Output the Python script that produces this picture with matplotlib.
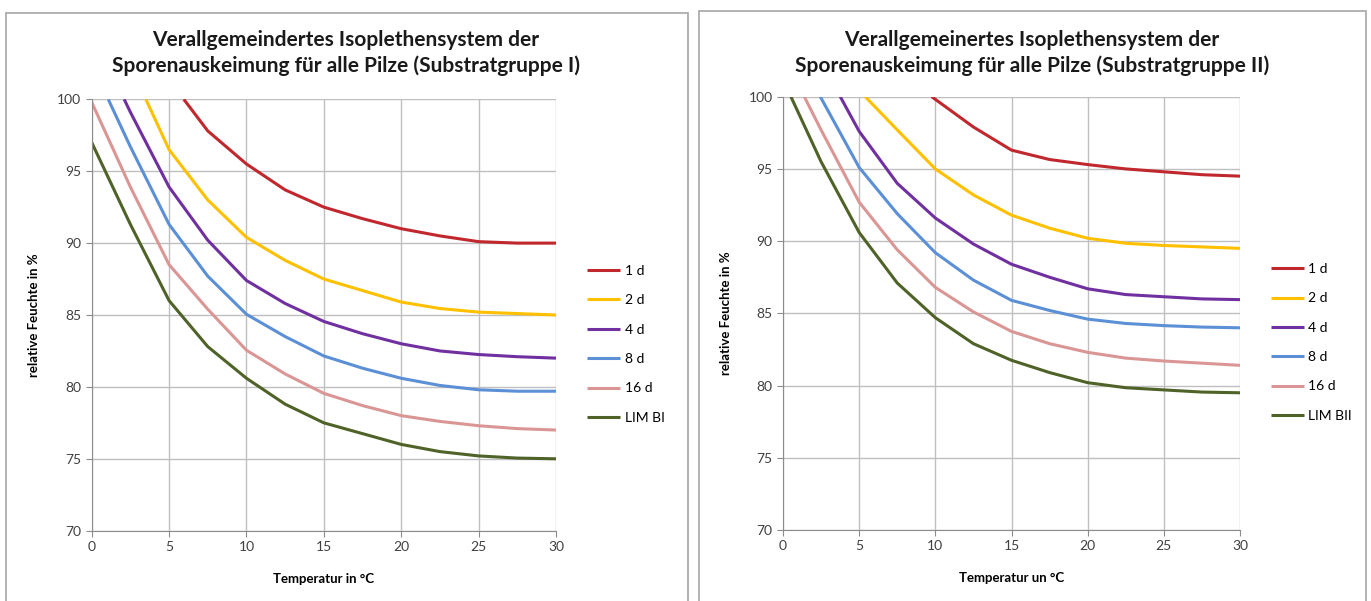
import matplotlib.pyplot as plt
from matplotlib.patches import Rectangle

# ---- data (temperature in degC, rel. humidity in %) ----
labels_I = ['1 d', '2 d', '4 d', '8 d', '16 d', 'LIM BI']
labels_II = ['1 d', '2 d', '4 d', '8 d', '16 d', 'LIM BII']

t_tail = [7.5, 10, 12.5, 15, 17.5, 20, 22.5, 25, 27.5, 30]

# Substratgruppe I
d1_I_x = [5.95] + t_tail
d1_I_y = [100, 97.8, 95.5, 93.7, 92.5, 91.7, 91.0, 90.5, 90.1, 90.0, 90.0]
d2_I_x = [3.5, 5] + t_tail
d2_I_y = [100, 96.5, 93.0, 90.4, 88.8, 87.5, 86.7, 85.9, 85.45, 85.2, 85.1, 85.0]
d4_I_x = [2.1, 2.5, 5] + t_tail
d4_I_y = [100, 99.1, 93.9, 90.2, 87.4, 85.8, 84.55, 83.7, 83.0, 82.5, 82.25, 82.1, 82.0]
d8_I_x = [1.07, 2.5, 5] + t_tail
d8_I_y = [100, 96.7, 91.3, 87.7, 85.05, 83.5, 82.15, 81.3, 80.6, 80.1, 79.8, 79.7, 79.7]
d16_I_x = [0, 2.5, 5] + t_tail
d16_I_y = [99.8, 93.9, 88.5, 85.4, 82.55, 80.9, 79.55, 78.7, 78.0, 77.6, 77.3, 77.1, 77.0]
lim_I_x = [0, 2.5, 5] + t_tail
lim_I_y = [97.0, 91.3, 86.0, 82.8, 80.6, 78.8, 77.5, 76.75, 76.0, 75.5, 75.2, 75.05, 75.0]

# Substratgruppe II
d1_II_x = [9.76, 12.5, 15, 17.5, 20, 22.5, 25, 27.5, 30]
d1_II_y = [100, 97.9, 96.3, 95.65, 95.3, 95.0, 94.8, 94.6, 94.5]
d2_II_x = [5.4] + t_tail
d2_II_y = [100, 97.7, 95.0, 93.2, 91.8, 90.9, 90.2, 89.85, 89.7, 89.6, 89.5]
d4_II_x = [3.76, 5] + t_tail
d4_II_y = [100, 97.6, 94.0, 91.6, 89.8, 88.4, 87.5, 86.7, 86.3, 86.15, 86.0, 85.95]
d8_II_x = [2.45, 5] + t_tail
d8_II_y = [100, 95.1, 91.9, 89.2, 87.3, 85.9, 85.2, 84.6, 84.3, 84.15, 84.05, 84.0]
d16_II_x = [1.4, 2.5, 5] + t_tail
d16_II_y = [100, 97.7, 92.7, 89.4, 86.8, 85.1, 83.75, 82.9, 82.3, 81.9, 81.7, 81.55, 81.4]
lim_II_x = [0.52, 2.5, 5] + t_tail
lim_II_y = [100, 95.5, 90.6, 87.1, 84.7, 82.9, 81.75, 80.9, 80.2, 79.85, 79.7, 79.55, 79.5]

colors = ['#C0282E', '#FFC000', '#7030A0', '#5B8FD6', '#DA9694', '#4F6228']

plt.rcParams['font.family'] = ['Lato', 'DejaVu Sans']

fig = plt.figure(figsize=(13.71, 6.01), dpi=100)
W, H = 1371.0, 601.0

# panel frames (bottom edge is cut off in the reference)
for x0, x1, top in [(6, 688, 13), (699, 1366, 11)]:
    fig.patches.append(Rectangle((x0 / W, -0.2), (x1 - x0) / W, 0.2 + 1 - top / H,
                                 transform=fig.transFigure, fill=False,
                                 edgecolor='#A6A6A6', linewidth=1.2))


def draw(rect, series, labels, title, xlabel, title_x):
    ax = fig.add_axes(rect)
    for (xs, ys), lab, c in zip(series, labels, colors):
        ax.plot(xs, ys, color=c, linewidth=2.2, label=lab, solid_capstyle='butt')
    ax.set_xlim(0, 30)
    ax.set_ylim(70, 100)
    ax.set_xticks(range(0, 31, 5))
    ax.set_yticks(range(70, 101, 5))
    ax.grid(True, color='#BFBFBF', linewidth=1.0)
    ax.set_axisbelow(True)
    for s in ['top', 'right']:
        ax.spines[s].set_visible(False)
    for s in ['left', 'bottom']:
        ax.spines[s].set_color('#8C8C8C')
    ax.tick_params(colors='#8C8C8C', labelcolor='#404040', labelsize=10, length=4)
    ax.set_xlabel(xlabel, fontsize=9.5, fontweight='bold', labelpad=14)
    ax.set_ylabel('relative Feuchte in %', fontsize=9.5, fontweight='bold', labelpad=12)
    for line, ty in zip(title, [40, 66]):
        fig.text(title_x / W, 1 - ty / H, line, fontsize=15, fontweight='bold',
                 ha='center', va='center', color='#1A1A1A')
    ax.legend(loc='upper left', bbox_to_anchor=(1.04, 0.645), frameon=False,
              fontsize=10, handlelength=2.4, labelspacing=1.25, handletextpad=0.3)
    return ax


series_I = [(d1_I_x, d1_I_y), (d2_I_x, d2_I_y), (d4_I_x, d4_I_y),
            (d8_I_x, d8_I_y), (d16_I_x, d16_I_y), (lim_I_x, lim_I_y)]
series_II = [(d1_II_x, d1_II_y), (d2_II_x, d2_II_y), (d4_II_x, d4_II_y),
             (d8_II_x, d8_II_y), (d16_II_x, d16_II_y), (lim_II_x, lim_II_y)]

draw([91.7 / W, 70.3 / H, (556 - 91.7) / W, (530.7 - 99.3) / H], series_I, labels_I,
     ['Verallgemeindertes Isoplethensystem der',
      'Sporenauskeimung für alle Pilze (Substratgruppe I)'],
     'Temperatur in °C', 346)
draw([783 / W, 71 / H, (1240 - 783) / W, (530 - 96.7) / H], series_II, labels_II,
     ['Verallgemeinertes Isoplethensystem der',
      'Sporenauskeimung für alle Pilze (Substratgruppe II)'],
     'Temperatur un °C', 1032)

fig.savefig('out.png', dpi=100)
